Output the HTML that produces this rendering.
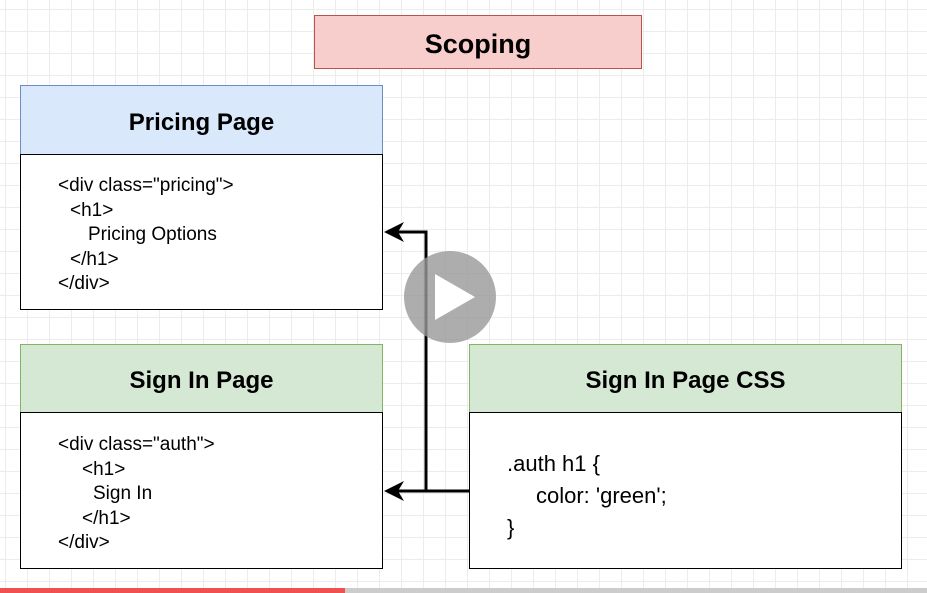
<!DOCTYPE html>
<html><head><style>
body{margin:0;width:927px;height:593px;overflow:hidden;font-family:"Liberation Sans",sans-serif;
background-color:#fff;background-image:linear-gradient(#ececec 1px,transparent 1px),linear-gradient(90deg,#ececec 1px,transparent 1px);background-size:22px 22px;background-position:5px 9px;position:relative}
.b{position:absolute;box-sizing:border-box;border:1.5px solid #000}
.h{position:absolute;box-sizing:border-box;font-weight:bold;font-size:24px;display:flex;align-items:center;justify-content:center;padding-top:5px}
.t{position:absolute;font-size:19px;line-height:24.5px;white-space:pre}
.t div{height:24.5px}
</style></head><body>
<div class="h" style="left:314px;top:15px;width:328px;height:54px;background:#f8cecc;border:1.5px solid #b85450;font-size:27px">Scoping</div>

<div class="h" style="left:20px;top:85px;width:363px;height:70px;background:#dae8fc;border:1.5px solid #6c8ebf">Pricing Page</div>
<div class="b" style="left:20px;top:154px;width:363px;height:156px;background:#fff"></div>
<div class="t" style="left:58px;top:174px"><div>&lt;div class="pricing"&gt;</div><div style="margin-left:12px">&lt;h1&gt;</div><div style="margin-left:30px">Pricing Options</div><div style="margin-left:12px">&lt;/h1&gt;</div><div>&lt;/div&gt;</div></div>

<div class="h" style="left:20px;top:344px;width:363px;height:69px;background:#d5e8d4;border:1.5px solid #82b366">Sign In Page</div>
<div class="b" style="left:20px;top:412px;width:363px;height:157px;background:#fff"></div>
<div class="t" style="left:58px;top:433px"><div>&lt;div class="auth"&gt;</div><div style="margin-left:24px">&lt;h1&gt;</div><div style="margin-left:35px">Sign In</div><div style="margin-left:24px">&lt;/h1&gt;</div><div>&lt;/div&gt;</div></div>

<div class="h" style="left:469px;top:344px;width:433px;height:69px;background:#d5e8d4;border:1.5px solid #82b366">Sign In Page CSS</div>
<div class="b" style="left:469px;top:412px;width:433px;height:157px;background:#fff"></div>
<div class="t" style="left:507px;top:448px;font-size:22px;line-height:32px"><div style="height:32px">.auth h1 {</div><div style="height:32px;margin-left:29px">color: 'green';</div><div style="height:32px">}</div></div>

<svg style="position:absolute;left:0;top:0" width="927" height="593">
<path d="M469 491 H426 V232 H395 M426 491 H395" fill="none" stroke="#000" stroke-width="3"/>
<path d="M384 232 L404 222 L398 232 L404 242 Z" fill="#000"/>
<path d="M384 491 L404 481 L398 491 L404 501 Z" fill="#000"/>
<circle cx="450" cy="297" r="46" fill="#999" opacity="0.8"/>
<path d="M435 274 L475 297 L435 320 Z" fill="#fff"/>
<rect x="0" y="588" width="927" height="5" fill="#ccc"/>
<rect x="0" y="588" width="345" height="5" fill="#f05050"/>
</svg>
</body></html>
